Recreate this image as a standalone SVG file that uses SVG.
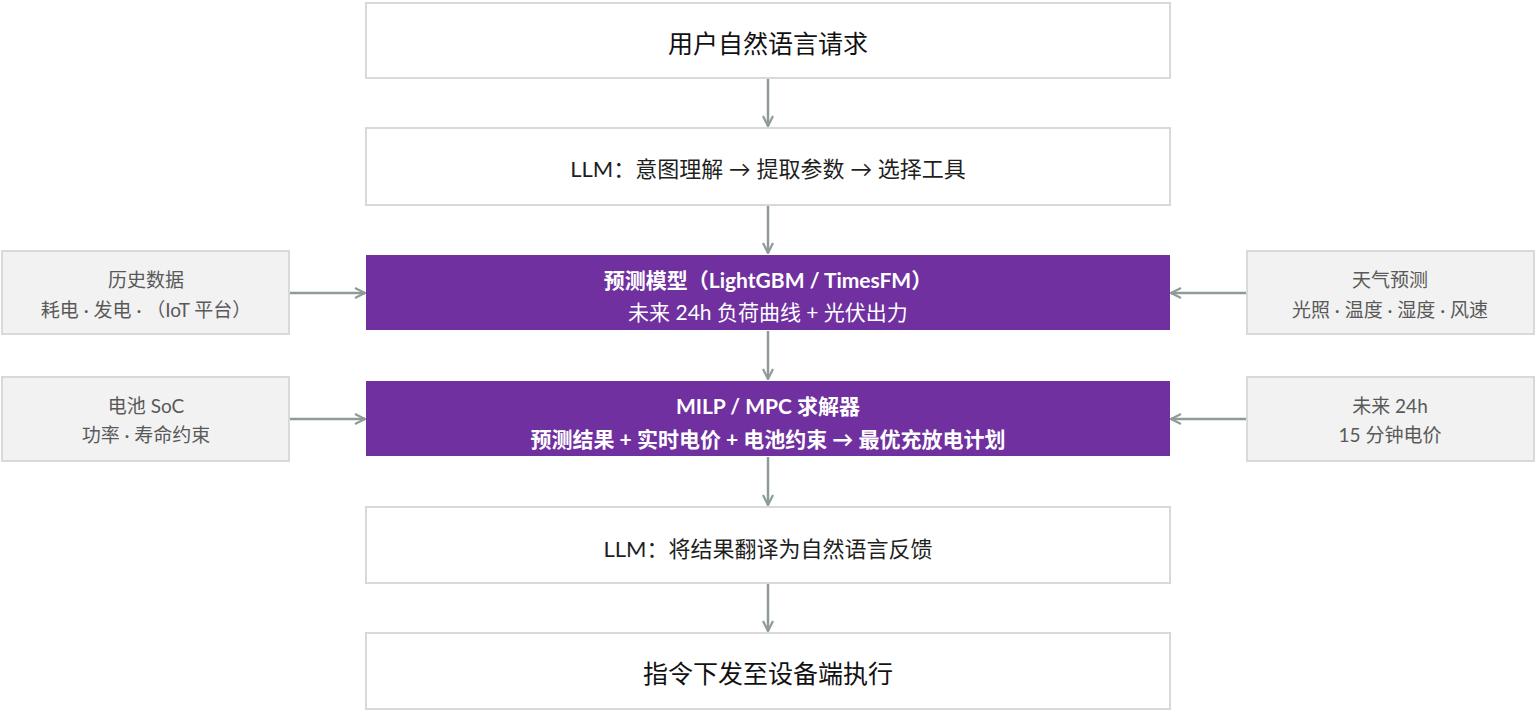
<svg xmlns="http://www.w3.org/2000/svg" width="1536" height="712" viewBox="0 0 1536 712">
<defs>
<style>
.main{fill:#ffffff;stroke:#d9d9d9;stroke-width:2}
.purple{fill:#7030a0;stroke:none}
.side{fill:#f2f2f2;stroke:#d9d9d9;stroke-width:2}
text{font-family:Lato,"Noto Sans CJK SC",sans-serif;text-anchor:middle;dominant-baseline:central}
.t1{font-size:25px;fill:#111111}
.t2{font-size:22px;fill:#1f1f1f}
.tp{font-size:21px;fill:#ffffff;font-weight:bold}
.tp2{font-size:21px;fill:#ffffff}
.ts{font-size:19px;fill:#595959}
.conn{stroke:#8e9b97;stroke-width:2.5;fill:none;marker-end:url(#arr)}
</style>
<marker id="arr" viewBox="0 0 12 12" refX="11" refY="6" markerWidth="12" markerHeight="12" markerUnits="userSpaceOnUse" orient="auto">
<path d="M1,1 L11,6 L1,11" fill="none" stroke="#8e9b97" stroke-width="2.2"/>
</marker>
</defs>
<g id="connectors">
<line class="conn" x1="768" y1="79" x2="768" y2="126"/>
<line class="conn" x1="768" y1="206" x2="768" y2="253"/>
<line class="conn" x1="768" y1="331" x2="768" y2="379"/>
<line class="conn" x1="768" y1="457" x2="768" y2="505"/>
<line class="conn" x1="768" y1="584" x2="768" y2="631"/>
<line class="conn" x1="290" y1="293" x2="365" y2="293"/>
<line class="conn" x1="290" y1="419" x2="365" y2="419"/>
<line class="conn" x1="1246" y1="293" x2="1171" y2="293"/>
<line class="conn" x1="1246" y1="419" x2="1171" y2="419"/>
</g>
<g id="n1"><rect class="main" x="366" y="3" width="804" height="75"/><text class="t1" x="768" y="43">用户自然语言请求</text></g>
<g id="n2"><rect class="main" x="366" y="128" width="804" height="77"/><text class="t2" x="768" y="168">LLM：意图理解 → 提取参数 → 选择工具</text></g>
<g id="n3"><rect class="purple" x="366" y="255" width="804" height="75"/><text class="tp" x="768" y="279">预测模型（LightGBM / TimesFM）</text><text class="tp2" x="768" y="311">未来 24h 负荷曲线 + 光伏出力</text></g>
<g id="n4"><rect class="purple" x="366" y="381" width="804" height="75"/><text class="tp" x="768" y="405">MILP / MPC 求解器</text><text class="tp" x="768" y="438">预测结果 + 实时电价 + 电池约束 → 最优充放电计划</text></g>
<g id="n5"><rect class="main" x="366" y="507" width="804" height="76"/><text class="t2" x="768" y="548">LLM：将结果翻译为自然语言反馈</text></g>
<g id="n6"><rect class="main" x="366" y="633" width="804" height="76"/><text class="t1" x="768" y="673">指令下发至设备端执行</text></g>
<g id="s1"><rect class="side" x="2" y="251" width="287" height="83"/><text class="ts" x="146" y="279">历史数据</text><text class="ts" x="146" y="309">耗电 · 发电 · （IoT 平台）</text></g>
<g id="s2"><rect class="side" x="2" y="377" width="287" height="84"/><text class="ts" x="146" y="405">电池 SoC</text><text class="ts" x="146" y="434">功率 · 寿命约束</text></g>
<g id="s3"><rect class="side" x="1247" y="251" width="287" height="83"/><text class="ts" x="1390" y="279">天气预测</text><text class="ts" x="1390" y="309">光照 · 温度 · 湿度 · 风速</text></g>
<g id="s4"><rect class="side" x="1247" y="377" width="287" height="84"/><text class="ts" x="1390" y="405">未来 24h</text><text class="ts" x="1390" y="434">15 分钟电价</text></g>
</svg>
